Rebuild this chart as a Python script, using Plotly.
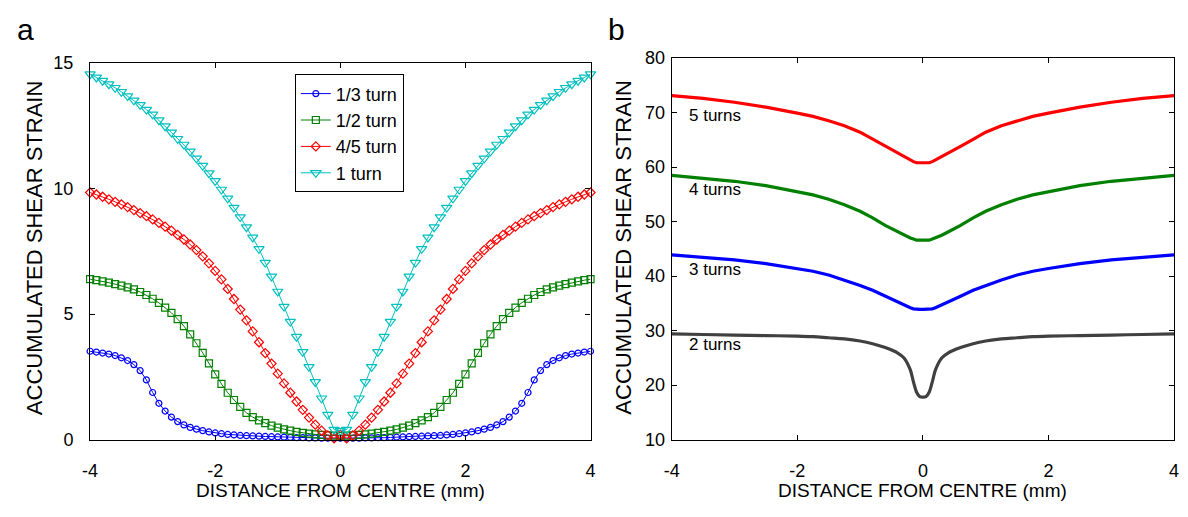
import plotly.graph_objects as go

# ---------------- Panel a data (distance in mm, accumulated shear strain) ----------------
x_a = [-4.0, -3.9, -3.8, -3.7, -3.6, -3.5, -3.4, -3.3, -3.2, -3.1,
       -3.0, -2.9, -2.8, -2.7, -2.6, -2.5, -2.4, -2.3, -2.2, -2.1,
       -2.0, -1.9, -1.8, -1.7, -1.6, -1.5, -1.4, -1.3, -1.2, -1.1,
       -1.0, -0.9, -0.8, -0.7, -0.6, -0.5, -0.4, -0.3, -0.2, -0.1,
       0.0,
       0.1, 0.2, 0.3, 0.4, 0.5, 0.6, 0.7, 0.8, 0.9, 1.0,
       1.1, 1.2, 1.3, 1.4, 1.5, 1.6, 1.7, 1.8, 1.9, 2.0,
       2.1, 2.2, 2.3, 2.4, 2.5, 2.6, 2.7, 2.8, 2.9, 3.0,
       3.1, 3.2, 3.3, 3.4, 3.5, 3.6, 3.7, 3.8, 3.9, 4.0]

turn_1_3 = [3.52, 3.49, 3.45, 3.41, 3.35, 3.26, 3.15, 2.99, 2.75, 2.38,
            1.88, 1.45, 1.14, 0.90, 0.72, 0.59, 0.49, 0.42, 0.36, 0.31,
            0.27, 0.24, 0.21, 0.19, 0.17, 0.16, 0.15, 0.14, 0.13, 0.12,
            0.11, 0.10, 0.09, 0.08, 0.08, 0.07, 0.07, 0.06, 0.06, 0.06,
            0.06,
            0.06, 0.06, 0.06, 0.07, 0.07, 0.08, 0.08, 0.09, 0.10, 0.11,
            0.12, 0.13, 0.14, 0.15, 0.16, 0.17, 0.19, 0.21, 0.24, 0.27,
            0.31, 0.36, 0.42, 0.49, 0.59, 0.72, 0.90, 1.14, 1.45, 1.88,
            2.38, 2.75, 2.99, 3.15, 3.26, 3.35, 3.41, 3.45, 3.49, 3.52]

turn_1_2 = [6.39, 6.35, 6.30, 6.25, 6.19, 6.13, 6.06, 5.98, 5.88, 5.76,
            5.61, 5.45, 5.26, 5.05, 4.80, 4.52, 4.19, 3.84, 3.46, 3.04,
            2.60, 2.22, 1.87, 1.58, 1.31, 1.07, 0.90, 0.77, 0.66, 0.56,
            0.48, 0.41, 0.36, 0.31, 0.27, 0.24, 0.21, 0.19, 0.17, 0.16,
            0.15,
            0.16, 0.17, 0.19, 0.21, 0.24, 0.27, 0.31, 0.36, 0.41, 0.48,
            0.56, 0.66, 0.77, 0.90, 1.07, 1.31, 1.58, 1.87, 2.22, 2.60,
            3.04, 3.46, 3.84, 4.19, 4.52, 4.80, 5.05, 5.26, 5.45, 5.61,
            5.76, 5.88, 5.98, 6.06, 6.13, 6.19, 6.25, 6.30, 6.35, 6.39]

turn_4_5 = [9.84, 9.76, 9.67, 9.57, 9.47, 9.37, 9.26, 9.14, 9.02, 8.90,
            8.77, 8.63, 8.48, 8.32, 8.15, 7.97, 7.77, 7.55, 7.30, 7.02,
            6.72, 6.38, 6.00, 5.60, 5.18, 4.75, 4.31, 3.88, 3.45, 3.03,
            2.63, 2.24, 1.87, 1.52, 1.19, 0.88, 0.60, 0.36, 0.17, 0.05,
            0.20,
            0.05, 0.17, 0.36, 0.60, 0.88, 1.19, 1.52, 1.87, 2.24, 2.63,
            3.03, 3.45, 3.88, 4.31, 4.75, 5.18, 5.60, 6.00, 6.38, 6.72,
            7.02, 7.30, 7.55, 7.77, 7.97, 8.15, 8.32, 8.48, 8.63, 8.77,
            8.90, 9.02, 9.14, 9.26, 9.37, 9.47, 9.57, 9.67, 9.76, 9.84]

turn_1 = [14.55, 14.42, 14.29, 14.15, 14.01, 13.85, 13.68, 13.51, 13.33, 13.14,
          12.95, 12.72, 12.48, 12.23, 11.98, 11.75, 11.48, 11.20, 10.91, 10.61,
          10.30, 9.96, 9.61, 9.24, 8.86, 8.46, 8.05, 7.60, 7.05, 6.50,
          5.90, 5.30, 4.70, 4.10, 3.50, 2.90, 2.30, 1.65, 1.00, 0.40,
          0.35,
          0.40, 1.00, 1.65, 2.30, 2.90, 3.50, 4.10, 4.70, 5.30, 5.90,
          6.50, 7.05, 7.60, 8.05, 8.46, 8.86, 9.24, 9.61, 9.96, 10.30,
          10.61, 10.91, 11.20, 11.48, 11.75, 11.98, 12.23, 12.48, 12.72, 12.95,
          13.14, 13.33, 13.51, 13.68, 13.85, 14.01, 14.15, 14.29, 14.42, 14.55]

names_a = ["1/3 turn", "1/2 turn", "4/5 turn", "1 turn"]

# ---------------- Panel b data ----------------
x_b = [-4, -3.5, -3, -2.5, -2, -1.75, -1.5, -1.25, -1, -0.8, -0.6, -0.4, -0.3, -0.2,
       -0.15, -0.1, -0.05, 0, 0.05, 0.1, 0.15, 0.2, 0.3, 0.4, 0.6, 0.8, 1, 1.25,
       1.5, 1.75, 2, 2.5, 3, 3.5, 4]

turns_5 = [73.1, 72.6, 71.9, 71.0, 69.9, 69.3, 68.5, 67.6, 66.4, 65.1, 63.8, 62.5, 61.9, 61.3,
           61.0, 60.8, 60.8, 60.8, 60.8, 60.8, 61.0, 61.3, 61.9, 62.5, 63.8, 65.1, 66.4, 67.6,
           68.5, 69.3, 69.9, 71.0, 71.9, 72.6, 73.1]
turns_4 = [58.5, 58.0, 57.4, 56.6, 55.5, 54.9, 54.1, 53.1, 51.9, 50.7, 49.3, 48.1, 47.5, 47.0,
           46.8, 46.6, 46.6, 46.6, 46.6, 46.6, 46.8, 47.0, 47.5, 48.1, 49.3, 50.7, 51.9, 53.1,
           54.1, 54.9, 55.5, 56.6, 57.4, 58.0, 58.5]
turns_3 = [43.9, 43.5, 43.0, 42.3, 41.4, 40.9, 40.2, 39.3, 38.3, 37.4, 36.3, 35.2, 34.7, 34.2,
           34.0, 33.9, 33.9, 33.9, 33.9, 33.9, 34.0, 34.2, 34.7, 35.2, 36.3, 37.4, 38.3, 39.3,
           40.2, 40.9, 41.4, 42.3, 43.0, 43.5, 43.9]
turns_2 = [29.4, 29.3, 29.2, 29.1, 29.0, 28.9, 28.7, 28.5, 28.1, 27.6, 26.9, 25.9, 25.0, 22.8,
           20.6, 18.7, 17.9, 17.8, 17.9, 18.7, 20.6, 22.8, 25.0, 25.9, 26.9, 27.6, 28.1, 28.5,
           28.7, 28.9, 29.0, 29.1, 29.2, 29.3, 29.4]

labels_b = ["5 turns", "4 turns", "3 turns", "2 turns"]
label_y_b = [69.5, 55.9, 41.2, 27.5]

x_ticks = [-4, -2, 0, 2, 4]
x_tick_text = ["-4", "-2", "0", "2", "4"]
y_ticks_a = [0, 5, 10, 15]
y_ticks_b = [10, 20, 30, 40, 50, 60, 70, 80]

FONT = "Liberation Sans, Arial, sans-serif"
W, H = 1188, 517

fig = go.Figure()

styles_a = [
    ("#0000FF", "circle-open", 6),
    ("#008000", "square-open", 7),
    ("#FF0000", "diamond-open", 7),
    ("#00BFBF", "triangle-down-open", 9),
]
for name, ys, (col, sym, sz) in zip(names_a, [turn_1_3, turn_1_2, turn_4_5, turn_1], styles_a):
    fig.add_trace(go.Scatter(
        x=x_a, y=ys, name=name, mode="lines+markers",
        line=dict(color=col, width=1),
        marker=dict(symbol=sym, size=sz, color=col, line=dict(color=col, width=1.2)),
        cliponaxis=False, xaxis="x", yaxis="y", showlegend=True,
    ))

styles_b = [("#FF0000", "linear"), ("#008000", "linear"), ("#0000FF", "linear"), ("#404040", "spline")]
for name, ys, (col, shp) in zip(labels_b, [turns_5, turns_4, turns_3, turns_2], styles_b):
    fig.add_trace(go.Scatter(
        x=x_b, y=ys, name=name, mode="lines",
        line=dict(color=col, width=3.2, shape=shp),
        xaxis="x2", yaxis="y2", showlegend=False,
    ))

# layout geometry (pixel based)
ax_l, ax_r = 83, 589
bx_l, bx_r = 671, 1179
a_top, b_top, bottom = 55, 50, 447


def px(x):
    return x / W


def py(y):
    return 1 - y / H


common_axis = dict(
    showline=True, linecolor="black", linewidth=1.2, mirror="ticks",
    ticks="inside", ticklen=5, tickwidth=1, tickcolor="black",
    showgrid=False, zeroline=False,
    tickfont=dict(family=FONT, size=18, color="black"),
)

fig.update_layout(
    width=W, height=H,
    margin=dict(l=0, r=0, t=0, b=0),
    paper_bgcolor="white", plot_bgcolor="white",
    font=dict(family=FONT, color="black"),
    xaxis=dict(domain=[px(ax_l), px(ax_r)], range=[-4, 4], tickvals=x_ticks, ticktext=x_tick_text,
               ticklabelstandoff=15, anchor="y", **common_axis),
    yaxis=dict(domain=[py(bottom), py(a_top)], range=[0, 15], tickvals=y_ticks_a,
               ticklabelstandoff=12, anchor="x", **common_axis),
    xaxis2=dict(domain=[px(bx_l), px(bx_r)], range=[-4, 4], tickvals=x_ticks, ticktext=x_tick_text,
                ticklabelstandoff=15, anchor="y2", **common_axis),
    yaxis2=dict(domain=[py(bottom), py(b_top)], range=[10, 80], tickvals=y_ticks_b,
                ticklabelstandoff=2, anchor="x2", **common_axis),
    legend=dict(
        x=px(290), y=py(67), xanchor="left", yanchor="top",
        bgcolor="white", bordercolor="black", borderwidth=1,
        font=dict(family=FONT, size=18, color="black"),
        tracegroupgap=0, itemwidth=30,
    ),
)


def txt(text, x, y, size, angle=0):
    return dict(text=text, x=px(x), y=py(y), xref="paper", yref="paper",
                xanchor="center", yanchor="middle", showarrow=False, textangle=angle,
                font=dict(family=FONT, size=size, color="black"))


annotations = [
    txt("a", 18, 20, 30),
    txt("b", 615, 20, 30),
    txt("DISTANCE FROM CENTRE (mm)", (ax_l + ax_r) / 2, 500, 19),
    txt("DISTANCE FROM CENTRE (mm)", (bx_l + bx_r) / 2, 500, 19),
    txt("ACCUMULATED SHEAR STRAIN", 27, 247, 22, -90),
    txt("ACCUMULATED SHEAR STRAIN", 622, 247, 22, -90),
]
for t, yv in zip(labels_b, label_y_b):
    annotations.append(dict(text=t, x=-3.75, y=yv, xref="x2", yref="y2",
                            xanchor="left", yanchor="middle", showarrow=False,
                            font=dict(family=FONT, size=17, color="black")))
fig.update_layout(annotations=annotations)

fig.write_html("out.html")
